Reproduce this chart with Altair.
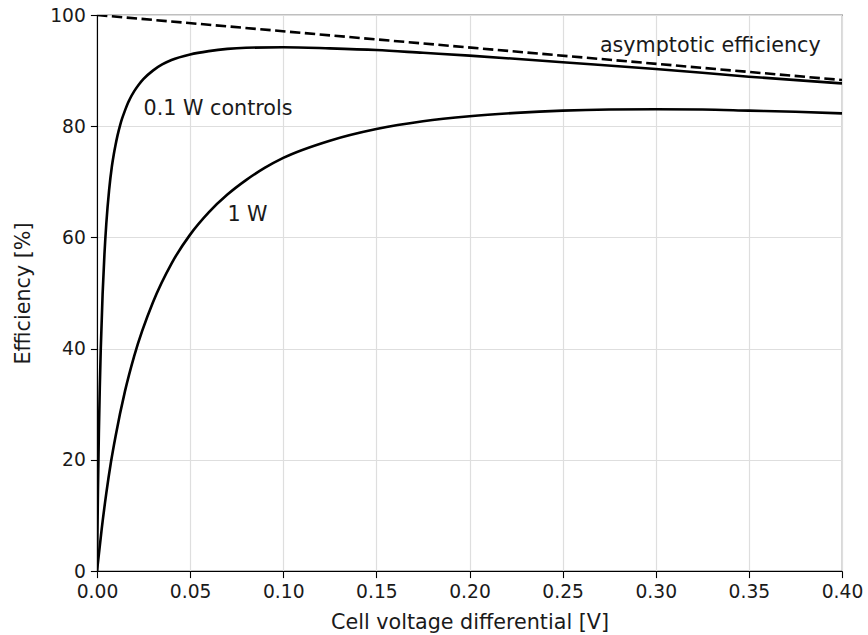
import altair as alt
import pandas as pd

# 0.1 W controls curve
v_low = [0.0, 0.0005, 0.001, 0.0015, 0.002, 0.003, 0.004, 0.005, 0.0065, 0.008,
         0.009, 0.01, 0.011, 0.0125, 0.0135, 0.015, 0.0165, 0.0175, 0.02, 0.0225,
         0.025, 0.03, 0.035, 0.04, 0.05, 0.06, 0.07, 0.08, 0.1, 0.125,
         0.15, 0.175, 0.2, 0.25, 0.3, 0.35, 0.4]
eff_low = [0.0, 14.2, 24.8, 33.0, 39.7, 49.7, 57.0, 62.5, 68.5, 72.8,
           74.9, 76.7, 78.3, 80.3, 81.4, 82.8, 84.1, 84.8, 86.3, 87.5,
           88.5, 90.0, 91.1, 91.9, 92.9, 93.5, 93.9, 94.1, 94.2, 94.0,
           93.7, 93.2, 92.7, 91.5, 90.3, 88.9, 87.7]

# 1 W curve
v_high = [0.0, 0.0025, 0.005, 0.0075, 0.01, 0.015, 0.02, 0.03, 0.04, 0.05,
          0.06, 0.07, 0.08, 0.09, 0.1, 0.125, 0.15, 0.175, 0.2, 0.225,
          0.25, 0.275, 0.3, 0.325, 0.35, 0.375, 0.4]
eff_high = [0.0, 7.5, 14.0, 19.6, 24.3, 32.3, 38.7, 48.3, 55.3, 60.5,
            64.5, 67.7, 70.3, 72.5, 74.3, 77.4, 79.5, 80.9, 81.8, 82.4,
            82.8, 83.0, 83.05, 83.0, 82.8, 82.6, 82.3]

# asymptotic efficiency (dashed)
v_asym = [0.0, 0.4]
eff_asym = [100.0, 88.3]

# annotations
label_text = ["0.1 W controls", "1 W", "asymptotic efficiency"]
label_x = [0.025, 0.07, 0.27]
label_y = [82.0, 63.0, 93.4]

x_ticks = [0.0, 0.05, 0.1, 0.15, 0.2, 0.25, 0.3, 0.35, 0.4]
y_ticks = [0, 20, 40, 60, 80, 100]

curves = pd.concat([
    pd.DataFrame({"v": v_low, "eff": eff_low, "series": "0.1 W"}),
    pd.DataFrame({"v": v_high, "eff": eff_high, "series": "1 W"}),
])
asym = pd.DataFrame({"v": v_asym, "eff": eff_asym})
labels = pd.DataFrame({"t": label_text, "v": label_x, "eff": label_y})

FONT = "DejaVu Sans"
FS = 18.7
FS_BIG = 20.7

xenc = alt.X("v:Q", scale=alt.Scale(domain=[0, 0.4], nice=False, zero=False),
             axis=alt.Axis(values=x_ticks, format=".2f", title="Cell voltage differential [V]",
                           labelFlush=False, labelOverlap=False))
yenc = alt.Y("eff:Q", scale=alt.Scale(domain=[0, 100], nice=False),
             axis=alt.Axis(values=y_ticks, title="Efficiency [%]",
                           labelFlush=False, labelOverlap=False))

solid = alt.Chart(curves).mark_line(color="black", strokeWidth=2.6, clip=True,
                                    interpolate="monotone").encode(
    x=xenc, y=yenc, detail="series:N")

dashed = alt.Chart(asym).mark_line(color="black", strokeWidth=2.6, clip=True,
                                   strokeDash=[10.4, 4.5]).encode(x=xenc, y=yenc)

text = alt.Chart(labels).mark_text(align="left", baseline="alphabetic", font=FONT,
                                   fontSize=FS_BIG, color="#1a1a1a").encode(
    x=alt.X("v:Q"), y=alt.Y("eff:Q"), text="t:N")

chart = alt.layer(solid, dashed, text).properties(
    width=745, height=556,
    autosize=alt.AutoSizeParams(type="none"),
    padding={"left": 97, "top": 15, "right": 26, "bottom": 64},
).configure_view(
    stroke="black", strokeWidth=1.1
).configure_axis(
    labelFont=FONT, labelFontSize=FS, labelColor="#1a1a1a",
    titleFont=FONT, titleFontSize=FS_BIG, titleFontWeight="normal", titleColor="#1a1a1a",
    tickColor="black", tickSize=6.6, tickWidth=1.1, labelPadding=5,
    domainColor="black", domainWidth=1.1,
    gridColor="#dedede", gridWidth=1.2,
).configure_axisX(
    titlePadding=11
).configure_axisY(
    titlePadding=16
)

chart.save("out.html", embed_options={"renderer": "svg", "actions": False})
